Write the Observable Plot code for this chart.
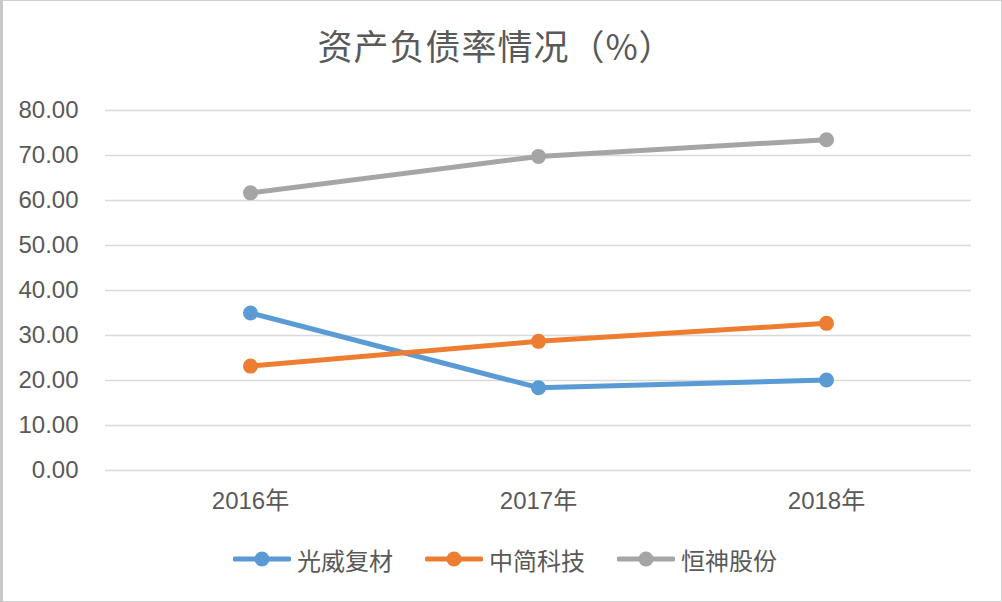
<!DOCTYPE html>
<html>
<head>
<meta charset="utf-8">
<script src="https://cdn.jsdelivr.net/npm/d3@7"></script>
<script src="https://cdn.jsdelivr.net/npm/@observablehq/plot@0.6"></script>
<style>
  html, body { margin: 0; padding: 0; background: #fff; }
  #wrap { position: relative; width: 1002px; height: 602px; box-sizing: border-box; border: 1px solid #d0d0d0; border-left: 3px solid #c8c8c8; overflow: hidden; font-family: "Liberation Sans", "Noto Sans CJK SC", sans-serif; color: #595959; }
  #title { height: 80px; line-height: 87px; text-align: center; font-size: 35px; padding-right: 12px; font-family: "Noto Sans CJK SC", sans-serif; color: #595959; letter-spacing: 1px; }
  #chart { height: 450px; }
  #legend { position: relative; height: 56px; }
  .item { position: absolute; top: 0; height: 56px; display: flex; align-items: center; font-size: 24px; font-family: "Noto Sans CJK SC", sans-serif; }
  .item svg { margin-right: 6px; }
</style>
</head>
<body>
<div id="wrap">
  <div id="title">资产负债率情况（%）</div>
  <div id="chart"></div>
  <div id="legend"></div>
</div>
<script>
const years = ["2016年", "2017年", "2018年"];
const seriesNames = ["光威复材", "中简科技", "恒神股份"];
const guangwei = [35.0, 18.4, 20.1];
const zhongjian = [23.2, 28.7, 32.7];
const hengshen = [61.7, 69.8, 73.5];
const yTicks = [0, 10, 20, 30, 40, 50, 60, 70, 80];
const colors = ["#5B9BD5", "#ED7D31", "#A5A5A5"];

const seriesValues = [guangwei, zhongjian, hengshen];
const data = [];
seriesNames.forEach((s, i) => years.forEach((y, j) => data.push({series: s, year: y, value: seriesValues[i][j]})));

const plot = Plot.plot({
  width: 998,
  height: 450,
  marginTop: 29,
  marginBottom: 61,
  marginLeft: 102,
  marginRight: 30,
  style: { fontFamily: "'Liberation Sans', 'Noto Sans CJK SC', sans-serif", fontSize: "24px", color: "#595959", background: "transparent" },
  x: { type: "point", domain: years, padding: 0.5, label: null },
  y: { domain: [0, 80], ticks: yTicks, label: null },
  color: { domain: seriesNames, range: colors },
  marks: [
    Plot.ruleY(yTicks, { stroke: "#d9d9d9", strokeWidth: 1.6 }),
    Plot.axisY(yTicks, { tickSize: 0, tickPadding: 27, tickFormat: d3.format(".2f"), label: null, fill: "#595959" }),
    Plot.axisX({ tickSize: 0, tickPadding: 21, label: null, fill: "#595959" }),
    Plot.line(data, { x: "year", y: "value", z: "series", stroke: "series", strokeWidth: 5, strokeLinecap: "round", strokeLinejoin: "round" }),
    Plot.dot(data, { x: "year", y: "value", fill: "series", r: 7.5 })
  ]
});
document.getElementById("chart").appendChild(plot);

const legend = document.getElementById("legend");
const lefts = [230, 422, 614];
seriesNames.forEach((s, i) => {
  const div = document.createElement("div");
  div.className = "item";
  div.style.left = lefts[i] + "px";
  div.innerHTML = `<svg width="58" height="20"><line x1="2" y1="10" x2="56" y2="10" stroke="${colors[i]}" stroke-width="5" stroke-linecap="round"/><circle cx="29" cy="10" r="7.5" fill="${colors[i]}"/></svg><span>${s}</span>`;
  legend.appendChild(div);
});
</script>
</body>
</html>
